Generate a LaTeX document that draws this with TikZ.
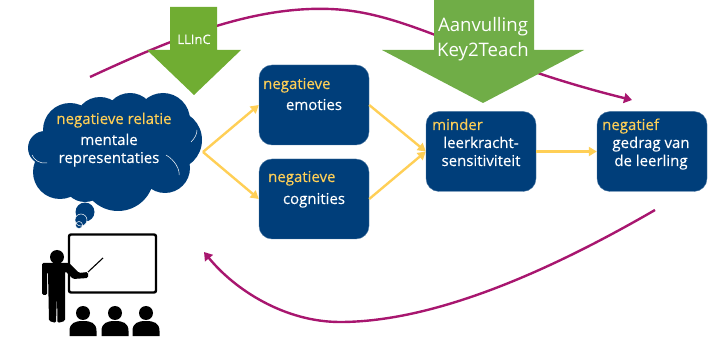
\documentclass[tikz,border=0pt]{standalone}
\usepackage{fontspec}
\setmainfont{Open Sans}
\newfontfamily\medfont[FakeBold=0.2]{Open Sans}
\usetikzlibrary{arrows.meta}
\definecolor{navy}{HTML}{003E7A}
\definecolor{goldy}{HTML}{FFCF56}
\definecolor{plum}{HTML}{A8166F}
\definecolor{leaf}{HTML}{70AD32}
\definecolor{leaftwo}{HTML}{70AD47}
\tikzset{
  x=1pt,y=-1pt,
  box/.style={draw=navy!70!white,line width=.4pt,fill=navy,rounded corners=13pt,minimum width=110pt,minimum height=80pt,inner sep=0pt},
  lab/.style={inner sep=0pt,anchor=base,font=\medfont\fontsize{15}{15}\selectfont},
  wlab/.style={lab,text=white},
  ylab/.style={lab,text=goldy},
  ywest/.style={lab,anchor=base west,text=goldy},
  glab/.style={inner sep=0pt,anchor=base,text=white,font=\fontsize{18.6}{20}\selectfont},
  flow/.style={draw=goldy,line width=2.4pt,-{Triangle[length=8pt,width=9pt]}},
  loopline/.style={draw=plum,line width=2.4pt,-{Triangle[length=8pt,width=10pt]}},
  cloudarc/.style={draw=white,line width=.5pt},
  ink/.style={fill=black,draw=none}
}
\begin{document}
\begin{tikzpicture}
\useasboundingbox (0,0) rectangle (718,339);
% top loop behind the green arrows
\coordinate (loopAstart) at (90,77);
\coordinate (loopAend) at (632,100);
\coordinate (loopBstart) at (655,210);
\coordinate (loopBend) at (204,252);
\draw[loopline] (loopAstart) .. controls (170,40) and (250,6) .. (330,9)
  .. controls (410,12) and (470,60) .. (loopAend);
\draw[loopline] (loopBstart) .. controls (560,265) and (440,322) .. (340,322)
  .. controls (285,322) and (235,290) .. (loopBend);
% green arrows
\fill[leaf] (170,7) -- (217,7) -- (217,50) -- (241,50) -- (194,95) -- (147,50) -- (170,50) -- cycle;
\fill[leaftwo] (434,0) -- (534,0) -- (534,50) -- (584,50) -- (483,103) -- (382,50) -- (434,50) -- cycle;
\node[glab,font=\medfont\fontsize{13}{13}\selectfont] (llinc) at (194,44) {LLInC};
\node[glab] (aanv) at (483,32) {Aanvulling};
\node[glab] (keyt) at (483,57) {Key2Teach};
% boxes
\node[box] (emo) at (314,105) {};
\node[box] (cog) at (314,199) {};
\node[box] (sens) at (481,151.5) {};
\node[box] (ged) at (652,151.5) {};
% cloud
\foreach \cx/\cy/\cr in {45/148/17,70/130/27,100/122/25,130/118/25,163/120/27,172/140/30,160/160/28,60/172/27,85/180/22,118/175/36,165/168/25,85/212/9.5,81/220/6,79/225/3.5}{
  \fill[navy] (\cx,\cy) circle (\cr);
}
\fill[navy] (60,115) rectangle (170,180);
\coordinate (cloudtip) at (203,152);
\draw[cloudarc] (166,155) .. controls (175,160) and (180,170) .. (179,175);
\draw[cloudarc] (47,163) .. controls (40,164) and (34,160) .. (32,155);
\draw[cloudarc] (191,142) .. controls (195,138) and (197,134) .. (197,130);
\draw[cloudarc] (81,220) circle (6);
\draw[cloudarc] (79,225) circle (3.5);
\node[ylab] (nr) at (114,124) {negatieve relatie};
\node[wlab] (ment) at (109,145) {mentale};
\node[wlab] (repr) at (109,163) {representaties};
% box labels
\node[ywest] (n1) at (263,89) {negatieve};
\node[wlab] (t1) at (314,110) {emoties};
\node[ywest] (n2) at (268,182) {negatieve};
\node[wlab] (t2) at (314,204) {cognities};
\node[ywest] (n3) at (432,130) {minder};
\node[wlab] (t3) at (481,148) {leerkracht-};
\node[wlab] (t4) at (481,166) {sensitiviteit};
\node[ywest] (n4) at (602,130) {negatief};
\node[wlab] (t5) at (651,148) {gedrag van};
\node[wlab] (t6) at (651,166) {de leerling};
% yellow connectors
\draw[flow] (cloudtip) -- (emo.west);
\draw[flow] (cloudtip) -- (cog.west);
\draw[flow] (emo.east) -- (sens.west);
\draw[flow] (cog.east) -- (sens.west);
\draw[flow] (sens.east) -- (ged.west);
% teacher icon
\draw[black,line width=2.4pt,rounded corners=2pt,fill=white] (69,234.5) rectangle (156,292.5);
\fill[ink] (57,257) circle (7);
\fill[ink,rounded corners=1.5pt] (42,263) -- (69,263) -- (79,273) -- (88,272) -- (88,278) -- (73,279) -- (65,271)
  -- (65,321) -- (57.5,323) -- (57,294) -- (56,323) -- (49,321) -- (48,272) -- (47,272) -- (47,295) -- (42,295) -- cycle;
\draw[black,line width=1.1pt] (88,272) -- (103,258);
\foreach \sx in {83,115,146}{
  \fill[ink] (\sx,313) circle (7);
  \fill[ink] (\sx-13.5,336) -- (\sx-13.5,331) .. controls (\sx-13.5,323) and (\sx-8,321) .. (\sx,321)
    .. controls (\sx+8,321) and (\sx+13.5,323) .. (\sx+13.5,331) -- (\sx+13.5,336) -- cycle;
}
\end{tikzpicture}
\end{document}
